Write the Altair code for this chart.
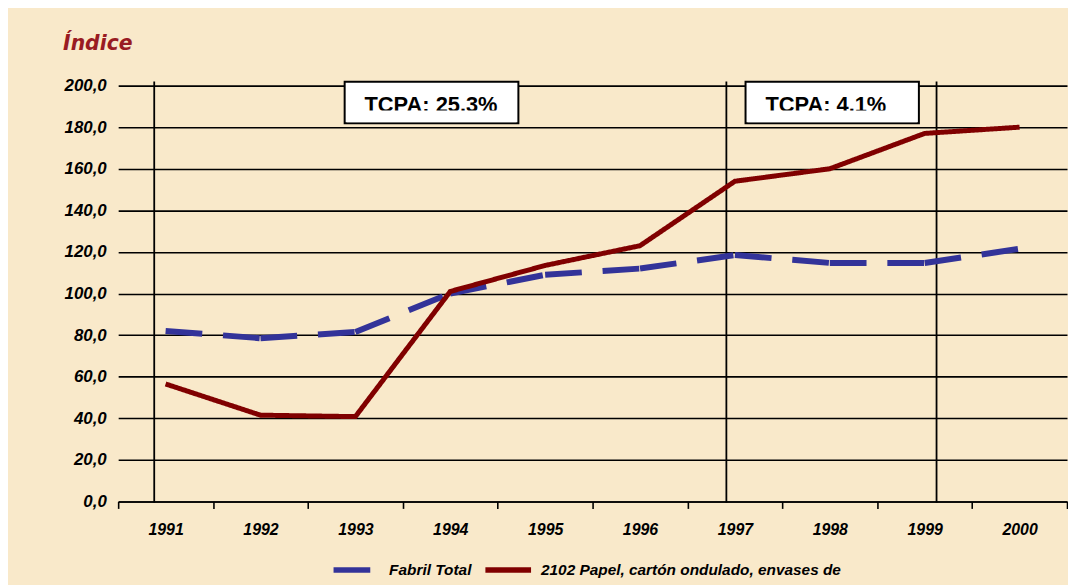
import altair as alt
import pandas as pd

# ---- data ----
years = [1991, 1992, 1993, 1994, 1995, 1996, 1997, 1998, 1999, 2000]
fabril_total = [82.0, 78.5, 81.5, 100.0, 109.0, 112.0, 118.5, 114.7, 114.7, 121.5]
papel_2102 = [56.5, 41.5, 40.8, 101.0, 113.5, 123.0, 154.0, 160.0, 177.0, 180.0]

series_names = ["Fabril Total", "2102 Papel, cartón ondulado, envases de"]
series_colors = ["#333399", "#800000"]
series_dashes = [[37, 21], [1, 0]]

y_ticks = [0, 20, 40, 60, 80, 100, 120, 140, 160, 180, 200]
x_bounds = [1990.5, 1991.5, 1992.5, 1993.5, 1994.5, 1995.5, 1996.5,
            1997.5, 1998.5, 1999.5, 2000.5]

# period separator lines (in year units) and their vertical extent
period_lines = [1990.88, 1996.91, 1999.125]
period_top = [202.0, 202.0, 202.0]
period_bottom = [-0.6, -0.6, -0.6]

# TCPA annotation boxes
box_labels = ["TCPA: 25.3%", "TCPA: 4.1%"]
box_x1 = [1992.887, 1997.112]
box_x2 = [1994.718, 1998.939]
box_y1 = [181.9, 181.9]
box_y2 = [201.9, 201.9]
box_text_y = [187.35, 187.35]
box_clip_top = [188.05, 188.05]
box_clip_bottom = [182.4, 182.4]

FONT = "Liberation Sans"

# ---- tables ----
seg = pd.DataFrame({
    "x": years[:-1], "x2": years[1:],
    "y": fabril_total[:-1], "y2": fabril_total[1:],
    "serie": series_names[0],
})
red = pd.DataFrame({"x": years, "y": papel_2102, "serie": series_names[1]})
vl = pd.DataFrame({"x": period_lines, "y": period_bottom, "y2": period_top})
boxes = pd.DataFrame({
    "x": box_x1, "x2": box_x2, "y": box_y1, "y2": box_y2,
    "ty": box_text_y, "ct": box_clip_top, "cb": box_clip_bottom,
    "label": box_labels,
})

xscale = alt.Scale(domain=[1990.5, 2000.5], nice=False, zero=False)
yscale = alt.Scale(domain=[0, 200], nice=False)

color_scale = alt.Scale(domain=series_names, range=series_colors)
dash_scale = alt.Scale(domain=series_names, range=series_dashes)

legend = alt.Legend(
    orient="none", legendX=214, legendY=462, direction="horizontal",
    symbolType="stroke", symbolSize=46 * 46, symbolStrokeWidth=5.5,
    labelFont=FONT, labelFontSize=15.5, labelFontStyle="italic",
    labelFontWeight="bold", labelColor="black", labelLimit=400,
    labelOffset=7, columnPadding=3, padding=0,
)

x_axis = alt.Axis(
    values=x_bounds, title=None, grid=False,
    domain=True, domainColor="black", domainWidth=1.6,
    ticks=True, tickColor="black", tickWidth=1.6, tickSize=7,
    labelExpr="datum.value < 2000 ? toString(datum.value + 0.5) : ''",
    labelOffset=47.8, labelPadding=13, labelFlush=False,
    labelOverlap=False, labelBound=False,
    labelFont=FONT, labelFontSize=16, labelFontStyle="italic",
    labelFontWeight="bold", labelColor="black",
)
y_axis = alt.Axis(
    values=y_ticks, title="Índice", grid=True, gridColor="black",
    gridWidth=1.6, gridOpacity=1, domain=False, ticks=False,
    labelExpr="replace(format(datum.value, '.1f'), '.', ',')",
    labelPadding=12, labelFont=FONT, labelFontSize=17,
    labelFontStyle="italic", labelFontWeight="bold", labelColor="black",
    titleAngle=0, titleX=-56, titleY=-36, titleAlign="left",
    titleBaseline="alphabetic", titleFont="DejaVu Sans",
    titleFontSize=20.5, titleFontStyle="italic", titleFontWeight="bold",
    titleColor="#991B22",
)

grid_layer = alt.Chart(vl).mark_rule(color="black", strokeWidth=1.8).encode(
    x=alt.X("x:Q", scale=xscale, axis=x_axis),
    y=alt.Y("y:Q", scale=yscale, axis=y_axis),
    y2="y2:Q",
)

box_layer = alt.Chart(boxes).mark_rect(
    fill="white", stroke="black", strokeWidth=2
).encode(x="x:Q", x2="x2:Q", y="y:Q", y2="y2:Q")

box_text = alt.Chart(boxes).mark_text(
    align="left", baseline="alphabetic", dx=20, font=FONT,
    fontSize=22, fontWeight="bold", color="black"
).encode(x="x:Q", y="ty:Q", text="label:N")

box_clip = alt.Chart(boxes).mark_rect(
    fill="white", xOffset=2, x2Offset=-2
).encode(x="x:Q", x2="x2:Q", y="ct:Q", y2="cb:Q")

blue_layer = alt.Chart(seg).mark_rule(strokeWidth=6).encode(
    x="x:Q", x2="x2:Q", y="y:Q", y2="y2:Q",
    color=alt.Color("serie:N", scale=color_scale, legend=legend, title=None),
    strokeDash=alt.StrokeDash("serie:N", scale=dash_scale, legend=legend, title=None),
)

red_layer = alt.Chart(red).mark_line(strokeWidth=5).encode(
    x="x:Q", y="y:Q",
    color=alt.Color("serie:N", scale=color_scale, legend=legend, title=None),
    strokeDash=alt.StrokeDash("serie:N", scale=dash_scale, legend=legend, title=None),
)

chart = alt.layer(
    grid_layer, box_layer, box_text, box_clip, blue_layer, red_layer
).properties(
    width=956, height=419,
    autosize=alt.AutoSizeParams(type="none"),
    padding={"left": 111, "top": 76, "right": 1, "bottom": 82},
    background="#F9E9CA",
).configure_view(stroke=None)

chart.save("out.html", embed_options={"renderer": "svg", "actions": False})
